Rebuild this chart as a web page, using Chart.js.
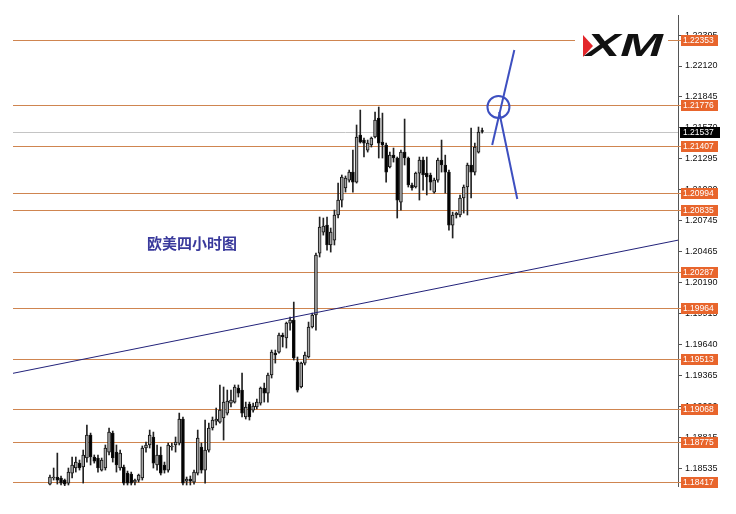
<!DOCTYPE html>
<html>
<head>
<meta charset="utf-8">
<script src="https://cdn.jsdelivr.net/npm/chart.js@4.4.0/dist/chart.umd.min.js"></script>
<style>
  html, body { margin: 0; padding: 0; background: #fff; }
</style>
</head>
<body>
<canvas id="myChart" width="736" height="514"></canvas>
<script>
// EURUSD H4 candles (oldest first)
const candleOpen = [
  1.18399, 1.18453, 1.18462, 1.18453, 1.18435, 1.18408, 1.18497, 1.18542, 1.18586, 1.18551,
  1.18631, 1.18836, 1.18640, 1.18631, 1.18524, 1.18542, 1.18684, 1.18853, 1.18684, 1.18542,
  1.18551, 1.18497, 1.18488, 1.18417, 1.18435, 1.18453, 1.18720, 1.18747, 1.18818, 1.18569,
  1.18658, 1.18569, 1.18524, 1.18729, 1.18747, 1.18764, 1.18978, 1.18426, 1.18444, 1.18417,
  1.18497, 1.18729, 1.18524, 1.18702, 1.18898, 1.18960, 1.18951, 1.18987, 1.19031, 1.19120,
  1.19129, 1.19254, 1.19236, 1.18996, 1.19111, 1.19058, 1.19085, 1.19120, 1.19254, 1.19209,
  1.19370, 1.19565, 1.19574, 1.19726, 1.19699, 1.19832, 1.19859, 1.19485, 1.19263, 1.19476,
  1.19530, 1.19797, 1.19904, 1.20455, 1.20642, 1.20704, 1.20527, 1.20571, 1.20794, 1.20927,
  1.21034, 1.21105, 1.21176, 1.21087, 1.21506, 1.21461, 1.21372, 1.21417, 1.21488, 1.21657,
  1.21443, 1.21417, 1.21221, 1.21327, 1.21301, 1.20909, 1.21354, 1.21301, 1.21061, 1.21043,
  1.21167, 1.21283, 1.21167, 1.21150, 1.20998, 1.21105, 1.21283, 1.21239, 1.21176, 1.20704,
  1.20794, 1.20794, 1.20945, 1.21043, 1.21239, 1.21176, 1.21354, 1.21541
];
const candleHigh = [
  1.18480, 1.18542, 1.18675, 1.18471, 1.18444, 1.18542, 1.18640, 1.18640, 1.18613, 1.18702,
  1.18925, 1.18853, 1.18658, 1.18658, 1.18631, 1.18747, 1.18898, 1.18871, 1.18747, 1.18702,
  1.18569, 1.18515, 1.18506, 1.18444, 1.18488, 1.18738, 1.18773, 1.18880, 1.18862, 1.18747,
  1.18729, 1.18595, 1.18764, 1.18764, 1.18818, 1.19031, 1.18996, 1.18462, 1.18471, 1.18524,
  1.18880, 1.18764, 1.18969, 1.18942, 1.18996, 1.19076, 1.19281, 1.19263, 1.19236, 1.19236,
  1.19281, 1.19281, 1.19387, 1.19129, 1.19129, 1.19120, 1.19156, 1.19263, 1.19298, 1.19387,
  1.19592, 1.19592, 1.19743, 1.19743, 1.19841, 1.19886, 1.20019, 1.19530, 1.19485, 1.19574,
  1.19841, 1.19921, 1.20455, 1.20776, 1.20767, 1.20776, 1.20678, 1.20838, 1.21078, 1.21150,
  1.21141, 1.21194, 1.21372, 1.21595, 1.21728, 1.21479, 1.21461, 1.21488, 1.21710, 1.21755,
  1.21701, 1.21434, 1.21354, 1.21390, 1.21310, 1.21372, 1.21648, 1.21310, 1.21078, 1.21176,
  1.21310, 1.21310, 1.21310, 1.21167, 1.21123, 1.21301, 1.21461, 1.21327, 1.21194, 1.20820,
  1.20820, 1.20972, 1.21061, 1.21256, 1.21568, 1.21434, 1.21577, 1.21568
];
const candleLow = [
  1.18391, 1.18435, 1.18399, 1.18391, 1.18382, 1.18391, 1.18453, 1.18506, 1.18524, 1.18408,
  1.18595, 1.18569, 1.18586, 1.18506, 1.18515, 1.18524, 1.18658, 1.18595, 1.18506, 1.18524,
  1.18391, 1.18391, 1.18391, 1.18391, 1.18417, 1.18435, 1.18684, 1.18720, 1.18542, 1.18524,
  1.18480, 1.18497, 1.18506, 1.18702, 1.18684, 1.18747, 1.18391, 1.18391, 1.18391, 1.18399,
  1.18480, 1.18497, 1.18408, 1.18684, 1.18880, 1.18925, 1.18942, 1.18791, 1.19014, 1.19085,
  1.19120, 1.19174, 1.18996, 1.18978, 1.18969, 1.19040, 1.19067, 1.19102, 1.19129, 1.19129,
  1.19343, 1.19476, 1.19565, 1.19619, 1.19610, 1.19770, 1.19503, 1.19218, 1.19254, 1.19459,
  1.19521, 1.19788, 1.19770, 1.20420, 1.20615, 1.20482, 1.20464, 1.20527, 1.20767, 1.20865,
  1.20998, 1.21087, 1.20998, 1.21078, 1.21434, 1.21310, 1.21354, 1.21399, 1.21479, 1.21301,
  1.21301, 1.21087, 1.21212, 1.21265, 1.20767, 1.20838, 1.21239, 1.21043, 1.21016, 1.21034,
  1.20927, 1.21016, 1.20972, 1.21016, 1.20989, 1.21087, 1.21176, 1.20989, 1.20660, 1.20589,
  1.20767, 1.20776, 1.20811, 1.20794, 1.20945, 1.21150, 1.21345, 1.21523
];
const candleClose = [
  1.18462, 1.18462, 1.18435, 1.18408, 1.18399, 1.18506, 1.18569, 1.18595, 1.18542, 1.18658,
  1.18836, 1.18640, 1.18604, 1.18542, 1.18613, 1.18720, 1.18862, 1.18631, 1.18569, 1.18675,
  1.18408, 1.18408, 1.18408, 1.18435, 1.18480, 1.18720, 1.18747, 1.18836, 1.18586, 1.18658,
  1.18497, 1.18524, 1.18747, 1.18738, 1.18773, 1.18978, 1.18408, 1.18444, 1.18426, 1.18506,
  1.18809, 1.18524, 1.18702, 1.18898, 1.18969, 1.18978, 1.19058, 1.19129, 1.19138, 1.19147,
  1.19263, 1.19209, 1.19031, 1.19085, 1.18996, 1.19094, 1.19129, 1.19254, 1.19209, 1.19370,
  1.19574, 1.19548, 1.19726, 1.19708, 1.19832, 1.19859, 1.19521, 1.19236, 1.19476, 1.19548,
  1.19797, 1.19904, 1.20437, 1.20687, 1.20696, 1.20527, 1.20642, 1.20794, 1.20927, 1.21132,
  1.21123, 1.21176, 1.21087, 1.21488, 1.21443, 1.21434, 1.21434, 1.21479, 1.21639, 1.21434,
  1.21417, 1.21176, 1.21327, 1.21301, 1.20927, 1.21354, 1.21301, 1.21061, 1.21034, 1.21167,
  1.21283, 1.21150, 1.21132, 1.21087, 1.21105, 1.21283, 1.21239, 1.21176, 1.20704, 1.20794,
  1.20811, 1.20945, 1.21043, 1.21239, 1.21176, 1.21399, 1.21532, 1.21537
];

// horizontal support / resistance levels
const levels = [1.22353, 1.21776, 1.21407, 1.20994, 1.20835, 1.20287, 1.19964, 1.19513, 1.19068, 1.18775, 1.18417];
const lastPrice = 1.21537;
const tickValues = [1.22395, 1.22120, 1.21845, 1.21570, 1.21295, 1.21020, 1.20745, 1.20465,
                    1.20190, 1.19915, 1.19640, 1.19365, 1.19090, 1.18815, 1.18535];

// long trend line (value at left edge, value at right edge)
const trendLine = [1.19385, 1.20570];
// hand drawn blue marks
const markUp = [{ x: 119.7, y: 1.21417 }, { x: 125.7, y: 1.22262 }];
const markDown = [{ x: 121.6, y: 1.21710 }, { x: 126.5, y: 1.20936 }];
const markCircle = [{ x: 121.4, y: 1.21755 }];

const xMin = -10, xMax = 170;
const idx = candleOpen.map((_, i) => i);
const bodies = idx.map(i => ({ x: i, y: [candleOpen[i], candleClose[i]] }));
const wicks = idx.map(i => ({ x: i, y: [candleLow[i], candleHigh[i]] }));
const bodyColors = idx.map(i => candleClose[i] >= candleOpen[i] ? '#a6a6a6' : '#000');

const levelColor = '#cf8550';
const boxColor = '#e8652c';
const markBlue = '#3d4fc0';

const overlay = {
  id: 'overlay',
  beforeDatasetsDraw(chart) {
    const { ctx, chartArea, scales: { y } } = chart;
    ctx.save();
    ctx.lineWidth = 1;
    ctx.strokeStyle = '#c4c4c4';
    let py = Math.round(y.getPixelForValue(lastPrice)) + 0.5;
    ctx.beginPath(); ctx.moveTo(chartArea.left, py); ctx.lineTo(chartArea.right, py); ctx.stroke();
    ctx.strokeStyle = levelColor;
    levels.forEach(v => {
      const p = Math.round(y.getPixelForValue(v)) + 0.5;
      ctx.beginPath(); ctx.moveTo(chartArea.left, p); ctx.lineTo(chartArea.right + 3, p); ctx.stroke();
    });
    // logo backdrop
    ctx.fillStyle = '#fff';
    ctx.fillRect(575, 28, 93, 42);
    ctx.restore();
  },
  afterDraw(chart) {
    const { ctx, chartArea, scales: { y } } = chart;
    ctx.save();
    ctx.font = '8.5px "Liberation Sans", Arial, sans-serif';
    ctx.textBaseline = 'middle';
    ctx.textAlign = 'left';
    levels.forEach(v => {
      const p = Math.round(y.getPixelForValue(v));
      ctx.fillStyle = boxColor;
      ctx.fillRect(chartArea.right + 3, p - 5, 37, 11);
      ctx.fillStyle = '#fff';
      ctx.fillText(v.toFixed(5), chartArea.right + 5, p + 0.5);
    });
    const lp = Math.round(y.getPixelForValue(lastPrice));
    ctx.fillStyle = '#000';
    ctx.fillRect(chartArea.right + 2, lp - 5, 40, 11);
    ctx.fillStyle = '#fff';
    ctx.fillText(lastPrice.toFixed(5), chartArea.right + 5, lp + 0.5);

    // chart caption
    ctx.fillStyle = '#3a3a9c';
    ctx.font = 'bold 15px "Noto Sans CJK SC", sans-serif';
    ctx.fillText('欧美四小时图', 147, 243);

    // XM logo
    ctx.fillStyle = '#e3262b';
    ctx.beginPath();
    ctx.moveTo(583, 35); ctx.lineTo(593, 46); ctx.lineTo(583, 57); ctx.closePath();
    ctx.fill();
    ctx.fillStyle = '#111';
    ctx.translate(586, 46);
    ctx.scale(1.6, 1);
    ctx.font = 'italic bold 32px "Liberation Sans", Arial, sans-serif';
    ctx.fillText('XM', 0, 1);
    ctx.restore();
  }
};

const ctx = document.getElementById('myChart').getContext('2d');

new Chart(ctx, {
  type: 'bar',
  data: {
    datasets: [
      {
        type: 'line', data: markCircle, showLine: false,
        pointRadius: 11, pointBorderWidth: 2, pointBorderColor: markBlue,
        pointBackgroundColor: 'rgba(0,0,0,0)', order: 0
      },
      {
        type: 'line', data: markUp, borderColor: markBlue, borderWidth: 2,
        pointRadius: 0, order: 0
      },
      {
        type: 'line', data: markDown, borderColor: markBlue, borderWidth: 2,
        pointRadius: 0, order: 0
      },
      {
        type: 'line',
        data: [{ x: xMin, y: trendLine[0] }, { x: xMax, y: trendLine[1] }],
        borderColor: '#22227a', borderWidth: 1, pointRadius: 0, order: 1
      },
      {
        data: bodies, backgroundColor: bodyColors, borderColor: '#111', borderWidth: 1,
        borderSkipped: false, barThickness: 3, grouped: false, minBarLength: 1, order: 2
      },
      {
        data: wicks, backgroundColor: '#222', barThickness: 1, grouped: false, order: 3
      }
    ]
  },
  options: {
    responsive: false,
    animation: false,
    devicePixelRatio: 1,
    layout: { padding: { left: 12, top: 15, bottom: 28, right: 0 } },
    plugins: {
      legend: { display: false },
      tooltip: { enabled: false }
    },
    scales: {
      x: { type: 'linear', min: xMin, max: xMax, offset: false, display: false },
      y: {
        position: 'right',
        min: 1.18382,
        max: 1.22574,
        afterFit: s => { s.width = 58; },
        afterBuildTicks: s => { s.ticks = tickValues.map(v => ({ value: v })); },
        ticks: {
          autoSkip: false,
          padding: 3,
          color: '#111',
          font: { family: '"Liberation Sans", Arial, sans-serif', size: 9 },
          callback: v => Number(v).toFixed(5)
        },
        grid: { drawOnChartArea: false, tickLength: 4, color: '#555' },
        border: { color: '#555' }
      }
    }
  },
  plugins: [overlay]
});
</script>
</body>
</html>
